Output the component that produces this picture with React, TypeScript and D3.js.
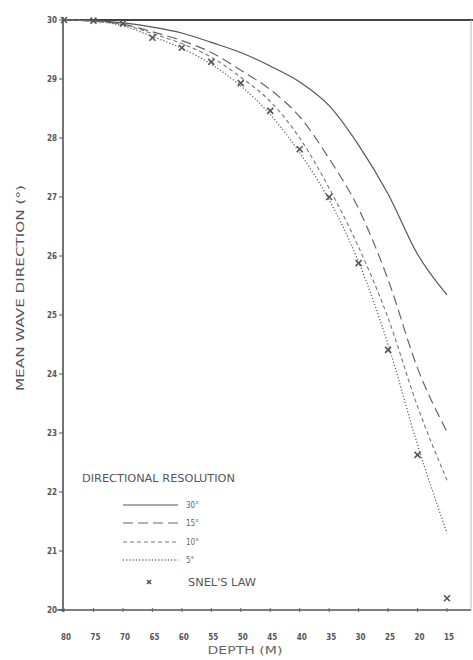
import React from 'react';
import * as d3 from 'd3';

const depths = [80, 75, 70, 65, 60, 55, 50, 45, 40, 35, 30, 25, 20, 15];
const res30 = [30.0, 29.99, 29.95, 29.88, 29.78, 29.62, 29.45, 29.22, 28.95, 28.55, 27.88, 27.05, 26.03, 25.34];
const res15 = [30.0, 29.98, 29.93, 29.8, 29.65, 29.45, 29.15, 28.82, 28.36, 27.65, 26.8, 25.6, 24.1, 23.02];
const res10 = [30.0, 29.98, 29.92, 29.77, 29.6, 29.37, 29.03, 28.62, 28.0, 27.15, 26.15, 24.95, 23.45, 22.2];
const res5 = [30.0, 29.98, 29.9, 29.72, 29.52, 29.25, 28.88, 28.4, 27.75, 26.95, 25.9, 24.5, 22.8, 21.3];
const snell = [30.0, 29.99, 29.94, 29.7, 29.53, 29.29, 28.93, 28.46, 27.81, 27.0, 25.88, 24.41, 22.63, 20.2];
const yTicks = [20, 21, 22, 23, 24, 25, 26, 27, 28, 29, 30];
const xTicks = [80, 75, 70, 65, 60, 55, 50, 45, 40, 35, 30, 25, 20, 15];
const seriesLabels = ['30°', '15°', '10°', '5°'];
const legendTitle = 'DIRECTIONAL RESOLUTION';
const snellLabel = "SNEL'S LAW";
const yTitle = 'MEAN WAVE DIRECTION (°)';
const xTitle = 'DEPTH (M)';

const W = 473;
const H = 660;
const FONT = "'Liberation Sans Narrow', 'DejaVu Sans Condensed', 'Liberation Sans', sans-serif";

export default function App() {
  const x = d3.scaleLinear().domain([80, 15]).range([64, 447]);
  const y = d3.scaleLinear().domain([20, 30]).range([610, 20]);

  const series = [res30, res15, res10, res5];
  const dashes = ['none', '10,5', '4,3', '1.2,2'];
  const colors = ['#555', '#666', '#777', '#666'];
  const widths = [1.2, 1.2, 1.1, 1.3];

  const line = d3
    .line<[number, number]>()
    .x((d) => x(d[0]))
    .y((d) => y(d[1]))
    .curve(d3.curveMonotoneX);

  const marker = (cx: number, cy: number, s: number, key: string) => (
    <g key={key} stroke="#555" strokeWidth={1.6}>
      <line x1={cx - s} y1={cy - s} x2={cx + s} y2={cy + s} />
      <line x1={cx - s} y1={cy + s} x2={cx + s} y2={cy - s} />
    </g>
  );

  const legendX1 = 123;
  const legendX2 = 178;
  const legendYs = [505, 523, 542, 560];

  return (
    <svg
      width={W}
      height={H}
      style={{ position: 'absolute', left: 0, top: 0, background: '#fff' }}
      fontFamily={FONT}
    >
      {/* frame */}
      <line x1={x(80) - 1} y1={20} x2={W} y2={20} stroke="#444" strokeWidth={1.8} />
      <line x1={471} y1={20} x2={471} y2={610} stroke="#bbb" strokeWidth={1} />
      <line x1={63} y1={17} x2={63} y2={612} stroke="#444" strokeWidth={1.5} />
      <line x1={57} y1={610} x2={471} y2={610} stroke="#555" strokeWidth={1.3} />

      {/* y ticks */}
      {yTicks.map((t) => (
        <g key={'yt' + t}>
          <line x1={59} y1={y(t)} x2={63} y2={y(t)} stroke="#555" strokeWidth={1} />
          <text
            x={57}
            y={y(t)}
            dy="0.35em"
            textAnchor="end"
            fontSize={8}
            fill="#555"
            fontWeight="bold"
          >
            {t}
          </text>
        </g>
      ))}

      {/* x ticks */}
      {xTicks.map((t) => (
        <g key={'xt' + t}>
          <line x1={x(t)} y1={608} x2={x(t)} y2={612} stroke="#666" strokeWidth={1} />
          <text
            x={x(t) + 2}
            y={637}
            dy="0.35em"
            textAnchor="middle"
            fontSize={8}
            fill="#555"
            fontWeight="bold"
          >
            {t}
          </text>
        </g>
      ))}

      {/* series lines */}
      {series.map((vals, i) => (
        <path
          key={'s' + i}
          d={line(depths.map((d, j) => [d, vals[j]] as [number, number])) || ''}
          fill="none"
          stroke={colors[i]}
          strokeWidth={widths[i]}
          strokeDasharray={dashes[i]}
        />
      ))}

      {/* Snell's law markers */}
      {depths.map((d, j) => marker(x(d), y(snell[j]), 3, 'm' + j))}

      {/* legend */}
      <text x={82} y={478} dy="0.35em" fontSize={10} fill="#555" textLength={153} lengthAdjust="spacingAndGlyphs">
        {legendTitle}
      </text>
      {seriesLabels.map((lab, i) => (
        <g key={'lg' + i}>
          <line
            x1={legendX1}
            y1={legendYs[i]}
            x2={legendX2}
            y2={legendYs[i]}
            stroke={colors[i]}
            strokeWidth={widths[i]}
            strokeDasharray={dashes[i]}
          />
          <text x={legendX2 + 8} y={legendYs[i]} dy="0.35em" fontSize={8} fill="#666">
            {lab}
          </text>
        </g>
      ))}
      {marker(149, 582, 2, 'lgm')}
      <text x={188} y={582} dy="0.35em" fontSize={10} fill="#555" textLength={68} lengthAdjust="spacingAndGlyphs">
        {snellLabel}
      </text>

      {/* axis titles */}
      <text
        transform={`translate(20, 288) rotate(-90)`}
        textAnchor="middle"
        dy="0.35em"
        fontSize={11}
        fill="#555"
        textLength={206}
        lengthAdjust="spacingAndGlyphs"
      >
        {yTitle}
      </text>
      <text
        x={245}
        y={654}
        textAnchor="middle"
        fontSize={11}
        fill="#666"
        textLength={75}
        lengthAdjust="spacingAndGlyphs"
      >
        {xTitle}
      </text>
    </svg>
  );
}
